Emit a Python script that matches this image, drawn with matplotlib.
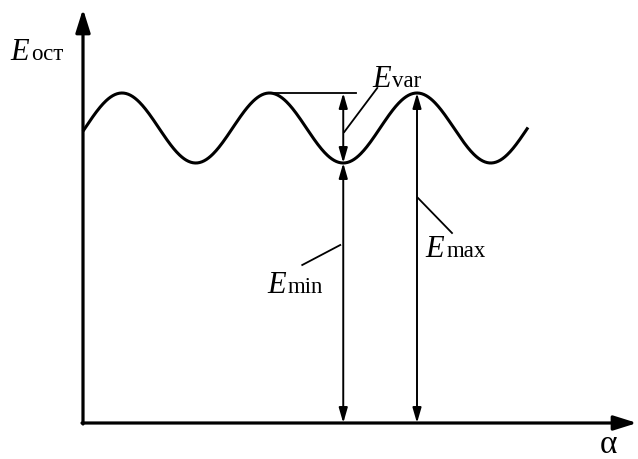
import numpy as np
import matplotlib.pyplot as plt

plt.rcParams['font.family'] = ['Liberation Serif', 'DejaVu Serif']

# residual energy swings between these two levels as alpha changes
E_min = 260.0
E_max = 330.0
period = 147.5          # alpha units per oscillation
first_peak = 39.0       # alpha of the first maximum
alpha_end = 445.0

alpha = np.linspace(0, alpha_end, 600)
E_mean = (E_max + E_min) / 2
E_amp = (E_max - E_min) / 2
E_ost = E_mean + E_amp * np.cos(2 * np.pi * (alpha - first_peak) / period)

# where the dimension arrows are drawn
a_trough = first_peak + 1.5 * period
a_peak_prev = first_peak + period
a_peak = first_peak + 2 * period

fig = plt.figure(figsize=(6.38, 4.59), dpi=100)
ax = fig.add_axes([0, 0, 1, 1])
ax.set_xlim(-83, 555)
ax.set_ylim(-36, 423)
ax.axis('off')

# axes with arrow heads
axis_arrow = dict(arrowstyle='-|>,head_length=0.7,head_width=0.22', color='k',
                  lw=2.3, shrinkA=0, shrinkB=0, mutation_scale=20)
ax.annotate('', xy=(0, 414), xytext=(0, -1), arrowprops=axis_arrow)
ax.annotate('', xy=(554, 0), xytext=(-1, 0), arrowprops=axis_arrow)

ax.plot(alpha, E_ost, color='k', lw=2.2, solid_capstyle='butt')

# dimension arrows
dim = dict(arrowstyle='<|-|>,head_length=0.45,head_width=0.13', color='k',
           lw=1.4, shrinkA=0, shrinkB=0, mutation_scale=20)
ax.annotate('', xy=(a_trough, E_max), xytext=(a_trough, E_min), arrowprops=dim)
ax.annotate('', xy=(a_trough, E_min), xytext=(a_trough, 0), arrowprops=dim)
ax.annotate('', xy=(a_peak, E_max), xytext=(a_peak, 0), arrowprops=dim)
ax.plot([a_peak_prev, a_trough + 13], [E_max, E_max], color='k', lw=1.3)

# leader lines
lead = dict(color='k', lw=1.3)
ax.plot([a_trough + 1, a_trough + 34], [291, 335], **lead)
ax.plot([a_trough - 3, a_trough - 41], [178, 158], **lead)
ax.plot([a_peak + 1, a_peak + 35], [225, 190], **lead)

big = 22
small = 16.5


def label(x, y, sub, dx=21):
    ax.text(x, y, 'E', fontsize=big, style='italic', va='baseline', ha='left')
    ax.text(x + dx, y, sub, fontsize=small, va='baseline', ha='left')


label(-73, 363, 'ост')
label(289, 336, 'var', 20)
label(184, 130, 'min')
label(342, 166, 'max', 22)
ax.text(517, -30, 'α', fontsize=24, va='baseline', ha='left')

fig.savefig('out.png', dpi=100)
